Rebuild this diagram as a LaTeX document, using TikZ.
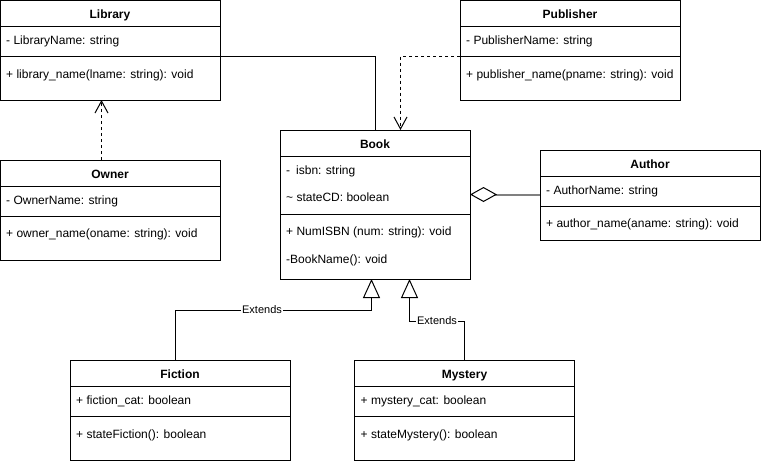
\documentclass[tikz,border=0pt]{standalone}
\usepackage{fontspec}
\setmainfont{Liberation Sans}
\usetikzlibrary{arrows.meta}
\begin{document}
\begin{tikzpicture}[x=1pt,y=-1pt,
  box/.style={draw, line width=1pt, anchor=north west, inner sep=0pt, outer sep=0pt, fill=white},
  ttl/.style={font=\fontsize{12}{14}\selectfont\bfseries, inner sep=0pt, text height=9pt, text depth=2.5pt, yshift=-1.5pt},
  txt/.style={font=\fontsize{12}{14}\selectfont, anchor=west, inner sep=0pt, text height=9pt, text depth=2.5pt, yshift=-1.5pt},
  lbl/.style={font=\fontsize{11}{13}\selectfont, fill=white, inner sep=1pt, text height=8pt, text depth=2pt},
  conn/.style={line width=1pt},
  sepline/.style={line width=1pt},
  dep/.style={line width=1pt, dash pattern=on 3pt off 3pt, -{Straight Barb[length=12pt,width=13pt,line width=1pt]}},
  inh/.style={line width=1pt, -{Triangle[open, length=19pt, width=17pt, line width=1pt]}},
  agg/.style={line width=2pt, draw=gray, {Diamond[length=27pt, width=15pt, line width=1pt, color=black, fill=white]}-},
]
\useasboundingbox (0,0) rectangle (761,464);

% Library
\node[box, minimum width=219.5pt, minimum height=99.5pt] (lib) at (0.5,0.5) {};
\node[ttl] (libt) at (110,13.5) {Library};
\draw[sepline] (0.5,26) -- (220,26);
\draw[sepline] (0.5,56) -- (220,56);
\node[txt] (liba) at (6,40) {- LibraryName: string};
\node[txt] (libm) at (6,74) {+ library\_name(lname: string): void};

% Publisher
\node[box, minimum width=220pt, minimum height=99.5pt] (pub) at (460,0.5) {};
\node[ttl] (pubt) at (570,13.5) {Publisher};
\draw[sepline] (460,26) -- (680,26);
\draw[sepline] (460,56) -- (680,56);
\node[txt] (puba) at (466,40) {- PublisherName: string};
\node[txt] (pubm) at (466,74) {+ publisher\_name(pname: string): void};

% Owner
\node[box, minimum width=219.5pt, minimum height=100pt] (own) at (0.5,160) {};
\node[ttl] (ownt) at (110,173.5) {Owner};
\draw[sepline] (0.5,186) -- (220,186);
\draw[sepline] (0.5,216) -- (220,216);
\node[txt] (owna) at (6,200) {- OwnerName: string};
\node[txt] (ownm) at (6,233) {+ owner\_name(oname: string): void};

% Book
\node[box, minimum width=190pt, minimum height=149pt] (book) at (280,130) {};
\node[ttl] (bookt) at (375,143.5) {Book};
\draw[sepline] (280,156) -- (470,156);
\draw[sepline] (280,214) -- (470,214);
\node[txt] (booka1) at (286,170) {-\hspace{6pt}isbn: string};
\node[txt] (booka2) at (286,197) {\textasciitilde{} stateCD: boolean};
\node[txt] (bookm1) at (286,231) {+ NumISBN (num: string): void};
\node[txt] (bookm2) at (286,259) {-BookName(): void};

% Author
\node[box, minimum width=219.5pt, minimum height=90pt] (auth) at (540.5,150.5) {};
\node[ttl] (autht) at (650,163.5) {Author};
\draw[sepline] (540.5,176) -- (760,176);
\draw[sepline] (540.5,206.5) -- (760,206.5);
\node[txt] (autha) at (546,190) {- AuthorName: string};
\node[txt] (authm) at (546,223) {+ author\_name(aname: string): void};

% Fiction
\node[box, minimum width=220pt, minimum height=100pt] (fic) at (70,360.5) {};
\node[ttl] (fict) at (180,373.5) {Fiction};
\draw[sepline] (70,386.5) -- (290,386.5);
\draw[sepline] (70,416.5) -- (290,416.5);
\node[txt] (fica) at (76,400) {+ fiction\_cat: boolean};
\node[txt] (ficm) at (76,434) {+ stateFiction(): boolean};

% Mystery
\node[box, minimum width=220pt, minimum height=100pt] (mys) at (354.5,360.5) {};
\node[ttl] (myst) at (464.5,373.5) {Mystery};
\draw[sepline] (354.5,386.5) -- (574.5,386.5);
\draw[sepline] (354.5,416.5) -- (574.5,416.5);
\node[txt] (mysa) at (360.5,400) {+ mystery\_cat: boolean};
\node[txt] (mysm) at (360.5,434) {+ stateMystery(): boolean};

% ports
\coordinate (libR) at (220,56);
\coordinate (bookTL) at (375.5,130);
\coordinate (pubL) at (460,56);
\coordinate (bookTR) at (400.5,130);
\coordinate (ownT) at (101.5,160);
\coordinate (libB) at (101.5,100);
\coordinate (authL) at (540,194.5);
\coordinate (bookR) at (470,194.5);
\coordinate (ficT) at (175.5,360);
\coordinate (bookBL) at (371.5,279);
\coordinate (mysT) at (464.5,360);
\coordinate (bookBR) at (409.5,279);

% connectors
\draw[conn] (libR) -| (bookTL);
\draw[dep] (pubL) -| (bookTR);
\draw[dep] (ownT) -- (libB);
\draw[agg] (bookR) -- (authL);
\draw[inh] (ficT) |- (271.5,310.5) coordinate (fk) -| (bookBL);
\node[lbl] (ficl) at (262,310.5) {Extends};
\draw[inh] (mysT) |- (437,321) -| (bookBR);
\node[lbl] (mysl) at (437,321) {Extends};
\end{tikzpicture}
\end{document}
